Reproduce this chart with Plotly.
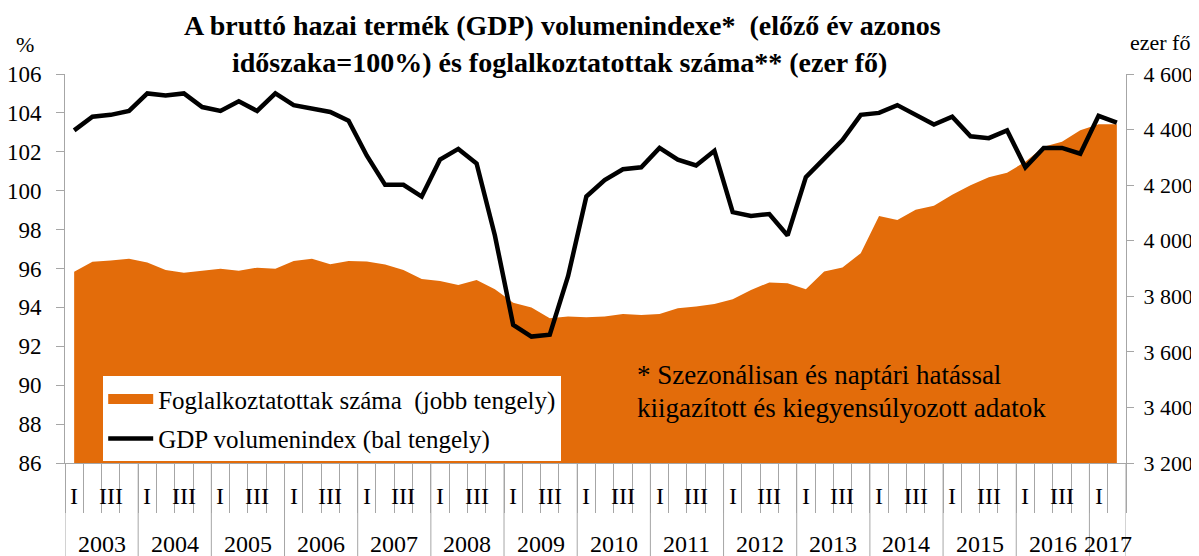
import plotly.graph_objects as go

years = [str(y) for y in range(2003, 2018)]
quarter_names = ["I", "II", "III", "IV"]
n_quarters = 58  # 2003 Q1 .. 2017 Q2

gdp = [103.1, 103.8, 103.9, 104.1, 105.0, 104.9, 105.0, 104.3,
       104.1, 104.6, 104.1, 105.0, 104.4, 104.2, 104.05, 103.6,
       101.8, 100.3, 100.3, 99.7, 101.6, 102.15, 101.4, 97.7,
       93.1, 92.5, 92.6, 95.6, 99.7, 100.55, 101.1, 101.2,
       102.2, 101.6, 101.3, 102.05, 98.9, 98.7, 98.8, 97.7,
       100.7, 101.65, 102.6, 103.9, 104.0, 104.4, 103.9, 103.4,
       103.8, 102.8, 102.7, 103.1, 101.2, 102.2, 102.2, 101.9,
       103.85, 103.5]

employment = [3888, 3924, 3929, 3935, 3922, 3895, 3885, 3892,
              3899, 3892, 3903, 3899, 3927, 3935, 3915, 3927,
              3925, 3914, 3895, 3862, 3855, 3841, 3859, 3825,
              3777, 3760, 3721, 3727, 3725, 3727, 3736, 3733,
              3736, 3757, 3763, 3772, 3789, 3823, 3850, 3847,
              3825, 3889, 3904, 3955, 4089, 4075, 4111, 4126,
              4165, 4200, 4228, 4245, 4284, 4338, 4356, 4398,
              4419, 4419]

left_ticks = list(range(86, 107, 2))
right_ticks = list(range(3200, 4601, 200))
right_ticktext = [f"{v // 1000} {v % 1000:03d}" for v in right_ticks]

title_lines = ["A bruttó hazai termék (GDP) volumenindexe*  (előző év azonos",
               "időszaka=100%) és foglalkoztatottak száma** (ezer fő)"]
note_lines = ["* Szezonálisan és naptári hatással",
              "kiigazított és kiegyensúlyozott adatok"]
legend_names = ["Foglalkoztatottak száma  (jobb tengely)", "GDP volumenindex (bal tengely)"]

FONT = "Liberation Serif"
ORANGE = "#E36C0A"
GRAY = "#A6A6A6"

x = list(range(n_quarters))

fig = go.Figure()
fig.add_trace(go.Scatter(
    x=x, y=employment, yaxis="y", mode="lines", fill="tozeroy",
    fillcolor=ORANGE, line=dict(color=ORANGE, width=0),
    name=legend_names[0], legendgroup="a", showlegend=False))
# legend-only entry giving the wide orange swatch
fig.add_trace(go.Scatter(
    x=[None], y=[None], yaxis="y", mode="lines",
    line=dict(color=ORANGE, width=13),
    name=legend_names[0], legendgroup="a", hoverinfo="skip"))
fig.add_trace(go.Scatter(
    x=x, y=gdp, yaxis="y2", mode="lines",
    line=dict(color="black", width=4.5),
    name=legend_names[1], legendgroup="b"))


def ann(xv, yv, text, size, xref="paper", xanchor="center", bold=False):
    return dict(x=xv, y=yv, xref=xref, yref="paper", text=("<b>" + text + "</b>") if bold else text,
                showarrow=False, xanchor=xanchor, yanchor="middle",
                font=dict(family=FONT, size=size, color="black"))


annotations = []
for i in range(n_quarters):
    q = i % 4
    if q in (0, 2):
        annotations.append(ann(i, -0.085, quarter_names[q], 24, xref="x"))
for k, yr in enumerate(years):
    first = k * 4
    last = min(first + 3, n_quarters - 1)
    annotations.append(ann((first + last) / 2, -0.207, yr, 24, xref="x"))
annotations.append(ann(0.4685, 1.125, title_lines[0], 28, bold=True))
annotations.append(ann(0.4665, 1.030, title_lines[1], 28, bold=True))
annotations.append(ann(-0.0377, 1.076, "%", 22))
annotations.append(ann(1.032, 1.080, "ezer fő", 22))
annotations.append(ann(0.537, 0.226, note_lines[0], 27, xanchor="left"))
annotations.append(ann(0.537, 0.141, note_lines[1], 27, xanchor="left"))

shapes = []
for k in range(len(years) + 1):
    b = min(k * 4, n_quarters) - 0.5
    shapes.append(dict(type="line", xref="x", yref="paper", x0=b, x1=b, y0=0, y1=-0.24,
                       line=dict(color=GRAY, width=1)))

fig.update_layout(
    width=1191, height=548,
    margin=dict(l=57, r=73, t=66, b=93, autoexpand=False),
    paper_bgcolor="white", plot_bgcolor="white",
    font=dict(family=FONT, size=23, color="black"),
    showlegend=True,
    legend=dict(x=0.036, y=0.223, xanchor="left", yanchor="top",
                bgcolor="white", borderwidth=0, traceorder="grouped",
                tracegroupgap=4, itemwidth=45,
                font=dict(family=FONT, size=25, color="black")),
    xaxis=dict(range=[-0.5, n_quarters - 0.5], showgrid=False, zeroline=False,
               showticklabels=False, showline=True, linecolor=GRAY, automargin=False,
               tickmode="array", tickvals=[k - 0.5 for k in range(n_quarters + 1)],
               ticks="outside", ticklen=49, tickcolor=GRAY, tickwidth=1),
    yaxis=dict(side="right", range=[3200, 4600], tickvals=right_ticks, ticktext=right_ticktext,
               showgrid=False, zeroline=False, showline=True, linecolor=GRAY, automargin=False,
               ticks="outside", ticklen=7, tickcolor=GRAY,
               tickfont=dict(family=FONT, size=22), ticklabelstandoff=5),
    yaxis2=dict(side="left", overlaying="y", range=[86, 106], tickvals=left_ticks,
                showgrid=False, zeroline=False, showline=True, linecolor=GRAY, automargin=False,
                ticks="outside", ticklen=8, tickcolor=GRAY,
                tickfont=dict(family=FONT, size=23), ticklabelstandoff=10),
    annotations=annotations, shapes=shapes,
)

fig.write_html("out.html")
